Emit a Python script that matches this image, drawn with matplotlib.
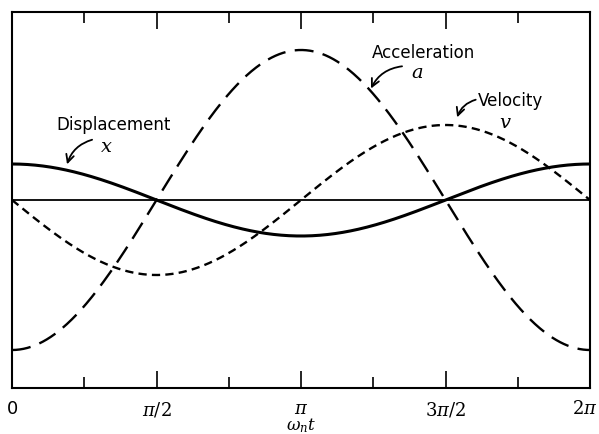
import numpy as np
import matplotlib
matplotlib.use("Agg")
import matplotlib.pyplot as plt
import matplotlib.transforms as mtransforms

# Data: amplitudes (in plot units) of the three harmonic quantities
series_names = ["Displacement", "Velocity", "Acceleration"]
series_symbols = ["x", "v", "a"]
amplitudes = [36, 75, 150]          # x = X cos, v = -V sin, a = -A cos
tick_values = [0, np.pi/2, np.pi, 3*np.pi/2, 2*np.pi]
tick_labels = ["0", r"$\pi/2$", r"$\pi$", r"$3\pi/2$", r"$2\pi$"]

plt.rcParams['font.family'] = ['DejaVu Sans']
plt.rcParams['mathtext.fontset'] = 'dejavuserif'

fig = plt.figure(figsize=(5.99, 4.35), dpi=100)
ax = fig.add_axes([12/599, (435-389)/435, 578/599, 376/435])

t = np.linspace(0, 2*np.pi, 600)
disp = amplitudes[0] * np.cos(t)
vel = -amplitudes[1] * np.sin(t)
acc = -amplitudes[2] * np.cos(t)

ax.axhline(0, color='black', lw=1.3)
ax.plot(t, disp, color='black', lw=2.2, solid_capstyle='butt')
ax.plot(t, vel, color='black', lw=1.7, dashes=(3.5, 2.2))
ax.plot(t, acc, color='black', lw=1.7, dashes=(8, 4))

ax.set_xlim(0, 2*np.pi)
ax.set_ylim(-188, 188)
ax.set_yticks([])
ax.set_xticks(tick_values)
ax.set_xticklabels(tick_labels, fontsize=13)
ax.set_xticks(np.arange(1, 8, 2)*np.pi/4, minor=True)
ax.tick_params(axis='x', which='major', direction='in', length=12, width=1.2,
               top=True, bottom=True, pad=8)
ax.tick_params(axis='x', which='minor', direction='in', length=8, width=1.2,
               top=True, bottom=True)
# keep the last label inside the figure
lbl = ax.get_xticklabels()[-1]
lbl.set_horizontalalignment('right')
lbl.set_transform(lbl.get_transform() + mtransforms.ScaledTranslation(8/100, 0, fig.dpi_scale_trans))
for s in ax.spines.values():
    s.set_linewidth(1.5)
ax.text(np.pi, -0.098, r"$\omega_n t$", transform=ax.get_xaxis_transform(),
        ha='center', va='center', fontsize=12)

lab_fs = 12
ax.text(1.10, 76, series_names[0], ha='center', va='center', fontsize=lab_fs)
ax.text(1.03, 55, r"$%s$" % series_symbols[0], ha='center', va='center', fontsize=14)
ax.annotate("", xy=(0.59, 33), xytext=(0.90, 61),
            arrowprops=dict(arrowstyle='->', color='black', lw=1.3,
                            connectionstyle='arc3,rad=0.3', mutation_scale=14))

ax.text(4.47, 148, series_names[2], ha='center', va='center', fontsize=lab_fs)
ax.text(4.40, 129, r"$%s$" % series_symbols[2], ha='center', va='center', fontsize=14)
ax.annotate("", xy=(3.89, 109), xytext=(4.27, 134),
            arrowprops=dict(arrowstyle='->', color='black', lw=1.3,
                            connectionstyle='arc3,rad=0.3', mutation_scale=14))

ax.text(5.42, 100, series_names[1], ha='center', va='center', fontsize=lab_fs)
ax.text(5.36, 79, r"$%s$" % series_symbols[1], ha='center', va='center', fontsize=14)
ax.annotate("", xy=(4.83, 80), xytext=(5.07, 101),
            arrowprops=dict(arrowstyle='->', color='black', lw=1.3,
                            connectionstyle='arc3,rad=0.3', mutation_scale=14))

fig.savefig("out.png", dpi=100)
